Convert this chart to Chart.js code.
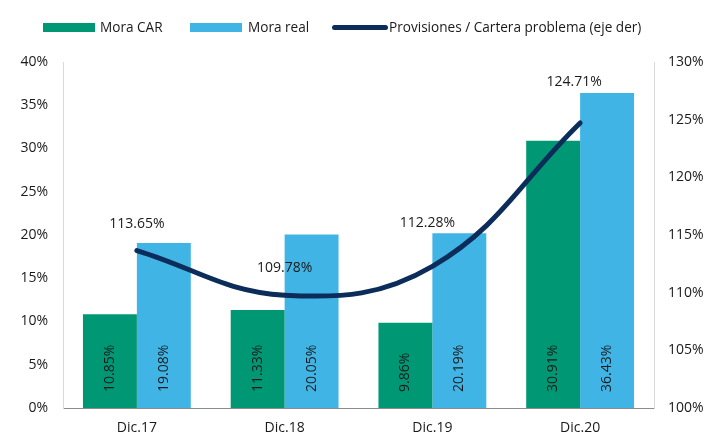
<!DOCTYPE html>
<html>
<head>
<meta charset="utf-8">
<script src="https://cdn.jsdelivr.net/npm/chart.js@4/dist/chart.umd.min.js"></script>
<style>
  html, body { margin: 0; padding: 0; background: #fff; }
  #wrap { position: relative; width: 720px; height: 436px; }
  #legend { position: absolute; left: 0; top: 0; width: 720px; height: 50px; font-family: "Open Sans", sans-serif; font-size: 13.6px; color: #1a1a1a; }
  .sw { position: absolute; }
  .lbl { position: absolute; top: 17px; line-height: 20px; white-space: nowrap; }
</style>
</head>
<body>
<div id="wrap">
  <canvas id="chart" width="720" height="436"></canvas>
  <div id="legend">
    <div class="sw" style="left:43px;top:23px;width:52px;height:9px;background:#009874"></div>
    <div class="lbl" style="left:100px">Mora CAR</div>
    <div class="sw" style="left:190px;top:23px;width:52px;height:9px;background:#41b4e6"></div>
    <div class="lbl" style="left:248px">Mora real</div>
    <div class="sw" style="left:332px;top:25px;width:56px;height:5px;border-radius:3px;background:#0c2d5a"></div>
    <div class="lbl" style="left:389px">Provisiones / Cartera problema (eje der)</div>
  </div>
</div>
<script>
const categories = ['Dic.17', 'Dic.18', 'Dic.19', 'Dic.20'];
const moraCar = [10.85, 11.33, 9.86, 30.91];
const moraReal = [19.08, 20.05, 20.19, 36.43];
const provisiones = [113.65, 109.78, 112.28, 124.71];

const FONT = { family: '"Open Sans", sans-serif', size: 14 };
const TEXT = '#1a1a1a';

// value labels: rotated inside bars, above the line points
const labelPlugin = {
  id: 'labels',
  afterDatasetsDraw(chart) {
    const ctx = chart.ctx;
    const base = chart.scales.y.getPixelForValue(0);
    ctx.save();
    ctx.font = '14px "Open Sans", sans-serif';
    ctx.fillStyle = TEXT;
    [0, 1].forEach(i => {
      chart.getDatasetMeta(i).data.forEach((el, j) => {
        const v = chart.data.datasets[i].data[j];
        ctx.save();
        ctx.translate(el.x, base - 16);
        ctx.rotate(-Math.PI / 2);
        ctx.textAlign = 'left';
        ctx.textBaseline = 'middle';
        ctx.fillText(v.toFixed(2) + '%', 0, 0);
        ctx.restore();
      });
    });
    const shift = [[0, 27], [0, 27], [-5, 43], [-6, 41]];
    chart.getDatasetMeta(2).data.forEach((el, j) => {
      const v = chart.data.datasets[2].data[j];
      ctx.textAlign = 'center';
      ctx.textBaseline = 'middle';
      ctx.fillText(v.toFixed(2) + '%', el.x + shift[j][0], el.y - shift[j][1]);
    });
    ctx.restore();
  }
};

new Chart(document.getElementById('chart'), {
  type: 'bar',
  data: {
    labels: categories,
    datasets: [
      {
        label: 'Mora CAR',
        data: moraCar,
        backgroundColor: '#009874',
        yAxisID: 'y',
        order: 2,
        categoryPercentage: 0.73,
        barPercentage: 1,
      },
      {
        label: 'Mora real',
        data: moraReal,
        backgroundColor: '#41b4e6',
        yAxisID: 'y',
        order: 2,
        categoryPercentage: 0.73,
        barPercentage: 1,
      },
      {
        type: 'line',
        label: 'Provisiones / Cartera problema (eje der)',
        data: provisiones,
        borderColor: '#0c2d5a',
        backgroundColor: '#0c2d5a',
        borderWidth: 5,
        borderCapStyle: 'round',
        pointRadius: 0,
        tension: 0.4,
        yAxisID: 'y1',
        order: 1,
      },
    ],
  },
  options: {
    responsive: false,
    animation: false,
    layout: { padding: { top: 62, left: 0, right: 0, bottom: 0 } },
    plugins: {
      legend: { display: false },
      tooltip: { enabled: false },
    },
    scales: {
      x: {
        grid: { display: false },
        border: { color: '#8c8c8c', width: 1 },
        ticks: { color: TEXT, font: FONT, padding: 4 },
        afterFit(s) { s.height = 28; },
      },
      y: {
        position: 'left',
        min: 0,
        max: 40,
        grid: { display: false },
        border: { color: '#d9d9d9', width: 1 },
        ticks: { stepSize: 5, color: TEXT, font: FONT, padding: 7, callback: v => v + '%' },
        afterFit(s) { s.width = 63; },
      },
      y1: {
        position: 'right',
        min: 100,
        max: 130,
        grid: { display: false },
        border: { color: '#d9d9d9', width: 1 },
        ticks: { stepSize: 5, color: TEXT, font: FONT, padding: 6, callback: v => v + '%' },
        afterFit(s) { s.width = 66; },
      },
    },
  },
  plugins: [labelPlugin],
});
</script>
</body>
</html>
